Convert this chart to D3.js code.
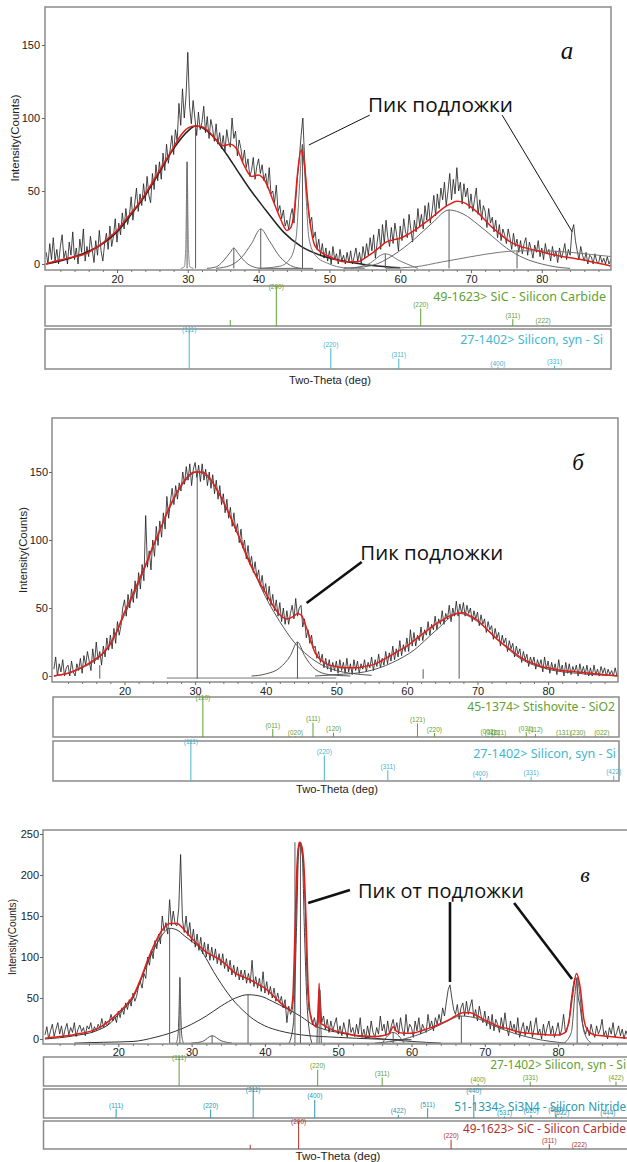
<!DOCTYPE html>
<html><head><meta charset="utf-8">
<script src="https://cdn.jsdelivr.net/npm/d3@7"></script>
<style>body{margin:0;background:#fff;overflow:hidden}svg{display:block}</style>
</head><body>
<script>
// ================= DATA =================
const RAW_START = 10, RAW_STEP = 0.25;
const xTicks = [20,30,40,50,60,70,80];
const yTicksA = [0,50,100,150];
const yTicksB = [0,50,100,150];
const yTicksC = [0,50,100,150,200,250];

// ---- panel а ----
const rawA = [
8,0,14,3, 18,2,10,0, 12,20,4,9, 0,15,6,22, 3,11,0,17, 8,24,2,12, 5,19,10,1, 16,6,23,9, 2,14,21,10, 26,12,19,31,
15,28,20,35, 24,38,27,33, 46,30,41,52, 36,48,40,55, 43,60,47,42, 62,51,68,57, 70,58,76,64, 82,69,78,88, 75,92,84,110, 95,120,100,115,
145,108,96,112, 100,88,104,92, 97,108,90,101, 86,99,93,84, 96,82,90,79, 88,77,92,84, 80,100,86,91, 74,85,79,70, 78,66,72,60, 64,73,58,67,
72,62,68,57, 62,52,66,48, 50,42,54,36, 40,31,37,26, 30,24,33,38, 28,44,60,72, 88,100,72,50, 40,28,32,18, 22,10,17,6, 14,4,11,2,
9,0,12,3, 7,0,10,2, 6,0,8,1, 9,0,5,11, 2,8,0,12, 4,14,6,18, 9,20,4,15, 24,10,27,14, 30,18,12,25, 14,28,20,9,
26,16,31,22, 18,34,24,15, 30,22,38,26, 34,24,40,30, 42,28,36,47, 33,48,38,52, 44,56,40,50, 62,44,58,48, 66,50,56,41, 55,46,52,38,
48,36,44,52, 34,44,30,40, 36,25,38,28, 32,22,30,18, 27,16,24,20, 14,24,18,10, 21,12,17,8, 16,7,14,18, 6,15,10,4, 13,8,16,5,
11,3,14,7, 10,2,12,5, 9,1,11,4, 8,14,3,10, 6,22,27,16, 9,3,12,6, 2,8,0,6, 5,0,7,2, 0,6,1,4, 0,5,0,3,
0];
const fitA = [[10,0],[11,1.5],[12,2.7],[13,4],[14,5],[15,6],[16,8],[17,11],[18,14.5],[19,18.7],[20,23],[21,29],[22,35],[23,41],[24,48],[25,56],[26,64],[27,72],[28,80],[29,88],[30,93],[31,94.5],[32,94],[33,90.6],[34,85],[35,81],[36,82],[37,78],[38,67],[39,60],[40,61],[41,56],[42,44],[43,32],[44,23],[44.5,24.6],[45,35],[45.5,62],[46,78],[46.5,67],[47,39],[47.5,21],[48,12],[49,7.5],[50,5],[51,3],[52,1.6],[53,1.5],[54,1.6],[55,4],[56,7.3],[57,11],[58,15],[59,16.5],[60,17.6],[61,20],[62,23],[63,26.5],[64,30],[65,34],[66,38],[67,41],[68,43],[69,42],[70,39],[71,35],[72,30],[73,25],[74,21],[75,17],[76,14],[77,12],[78,10.7],[79,9.5],[80,8.4],[81,7],[82,6],[83,5],[84,4.3],[85,3.5],[86,2.7],[87,1.5],[88,0.5],[89,-0.5],[90,-1.8]];
const humpA31 = [[10,0],[14,5],[18,14],[20,22],[22,34],[24,47],[26,63],[28,79],[30,91],[31.1,94.5],[32,93.5],[34,85],[35.5,75],[37,64],[38.8,51],[41,37],[43.5,22],[46,12],[48.7,6],[52,2],[56,-1],[60,-2.5]];
const peakA30 = [[29,-3],[29.5,-2],[29.7,10],[29.8,40],[29.9,70],[30,40],[30.1,10],[30.3,-2],[30.8,-3]];
const peakA36 = [[32.7,-3],[34,-2],[35,2],[36,8],[36.5,11],[37,8],[38,2],[39,-1.5],[40.5,-3],[47.7,-3]];
const peakA40 = [[34,-3],[36,-1],[37.5,4],[39,14],[40.3,24],[41.5,16],[43,5],[44.5,-1],[46,-3]];
const peakA46 = [[40,-3],[43,-1.5],[44.5,4],[45.3,18],[45.8,55],[46.2,82],[46.6,55],[47.1,18],[48,6],[50,0],[52,-2.5],[55,-3]];
const peakA58 = [[53,-3],[55.5,0],[57.9,7],[60,2],[62.5,-3]];
const humpA67 = [[52,-3],[56,-1],[59,6],[62,17],[64.5,28],[66.9,37],[69,34],[71,27],[73,19],[75,11],[77.5,4],[80,0],[82,-2],[84,-3]];
const humpA76 = [[58,-3],[62,-2],[66,1.5],[70,5],[74,8],[76.5,9],[80,9],[84,8],[87,6.5],[90,5]];
const vlinesA = [[29.9,70],[31.1,94.5],[36.5,11],[40.3,24],[46.2,82],[57.9,7],[66.9,37],[76.5,9]];
const sicA_pos = [36.0,42.5,62.9,75.9,80.2], sicA_int = [15,100,44,17,3], sicA_hkl = ['','(200)','(220)','(311)','(222)'];
const siA_pos = [30.2,50.2,59.8,73.8,81.8], siA_int = [100,52,26,5,8], siA_hkl = ['(111)','(220)','(311)','(400)','(331)'];

// ---- panel б ----
const rawB = [
5,14,0,9, 3,12,0,6, 8,0,11,3, 0,9,4,13, 2,15,8,18, 11,4,20,9, 25,12,18,8, 22,14,28,19, 30,20,35,24, 40,30,37,50,
56,44,60,50, 64,54,70,57, 76,64,82,70, 118,80,92,78, 100,88,110,96, 114,102,120,108, 132,116,128,138, 126,140,130,142, 136,150,141,154, 144,156,140,152,
157,146,155,143, 156,144,152,140, 150,138,148,134, 144,130,140,126, 134,120,130,116, 124,110,120,106, 112,98,108,94, 100,86,96,82, 88,76,84,72, 78,66,74,62,
68,56,66,52, 60,48,56,44, 54,40,50,38, 48,38,46,52, 42,57,44,50, 52,36,42,28, 34,24,30,20, 22,13,18,10, 16,6,13,5, 12,3,10,4,
11,2,12,4, 10,2,13,3, 9,1,12,4, 11,2,9,5, 12,3,10,6, 14,4,12,7, 16,6,13,8, 18,9,17,11, 22,12,20,14, 26,15,23,18,
28,18,34,22, 32,22,30,26, 36,26,34,30, 40,30,38,34, 44,34,42,38, 48,38,46,42, 52,40,50,44, 55,44,53,46, 54,44,52,46, 50,40,48,42,
47,37,45,38, 42,32,40,34, 37,27,35,28, 32,22,30,24, 28,18,26,20, 24,14,22,16, 20,10,18,12, 16,7,14,9, 14,5,12,7, 12,3,14,5,
11,2,10,4, 9,1,12,3, 8,0,10,2, 9,1,7,3, 8,0,9,2, 7,1,8,0, 6,0,8,1, 5,0,7,2, 6,0,5,1, 4,0,6,0,
2];
const fitB = [[10,0],[11,1],[12,2],[13,4],[14,6.5],[15,9.5],[16,13],[17,17],[18,24],[19,34],[20,47],[21,58],[22,70],[23,82],[24,95],[25,107],[26,120],[27,131],[28,140],[29,147],[30,150],[31,150],[32,146],[33,138],[34,128],[35,117],[36,105],[37,92],[38,80],[39,70],[40,61],[41,52],[42,45],[43,42],[44,44],[44.5,46],[45,45],[46,32],[47,17],[48,11],[49,8],[50,7],[51,6],[52,6],[53,6],[54,7],[55,8],[56,10],[57,13],[58,16],[59,19],[60,22],[61,26],[62,30],[63,34],[64,38],[65,41],[66,44],[67,46],[68,46.5],[69,44],[70,41],[71,36],[72,31],[73,26],[74,22],[75,18],[76,14],[77,11],[78,9],[79,7],[80,6],[81,5],[82,4],[83,3.5],[84,3],[85,2.5],[86,2],[87,1.5],[88,1],[89,0.5],[90,0]];
const humpB30 = [[10,0],[12,2],[14,6],[16,12],[18,23],[20,45],[22,68],[24,94],[26,119],[28,139],[30.3,150],[32,145],[34,128],[36,105],[38,81],[40,58],[42,40],[43,32],[44,25],[46,15],[48,8],[50,4],[52,2],[55,0.5]];
const peakB44 = [[38,0],[40,1.5],[42,6],[43.5,15],[44.5,25],[45.5,15],[47,5],[49,1],[52,0]];
const humpB67 = [[47,0],[50,1],[54,3],[58,10],[61,19],[64,33],[67.4,46],[70,40],[73,26],[76,13],[80,5],[84,2],[88,0.5],[90,0]];
const baseB = [[26,-1.5],[50,-1.5]];
const vlinesB = [[30.3,150],[44.5,25],[67.4,46],[16.5,8],[62.3,5]];
const stiB_pos = [31.1,41.0,44.2,46.7,49.6,61.5,63.9,71.5,72.1,73.0,76.9,78.2,82.2,84.2,87.6];
const stiB_int = [100,20,2,36,11,34,10,3,2,1,12,8,2,2,2];
const stiB_hkl = ['(110)','(011)','(020)','(111)','(120)','(121)','(220)','(002)','(310)','(221)','(031)','(112)','(131)','(230)','(022)'];
const siB_pos = [29.4,48.3,57.3,70.4,77.6,89.3], siB_int = [100,64,27,9,11,13], siB_hkl = ['(111)','(220)','(311)','(400)','(331)','(422)'];

// ---- panel в ----
const rawC = [
5,15,0,10, 18,3,12,20, 6,16,2,12, 19,5,14,8, 20,3,12,17, 9,14,4,16, 12,20,8,15, 10,18,13,25, 14,22,16,20, 30,22,28,20,
34,26,38,30, 44,36,48,40, 56,46,52,64, 70,62,80,74, 100,90,108,98, 120,110,128,116, 150,132,142,128, 170,138,156,140, 138,160,225,146, 130,150,126,142,
118,134,112,128, 108,124,104,118, 100,116,96,112, 96,110,92,104, 90,104,86,98, 82,96,78,90, 76,88,72,84, 72,84,68,80, 68,96,64,76, 62,74,58,82,
56,70,54,64, 50,62,46,56, 44,52,38,48, 20,40,30,36, 60,150,230,240, 232,215,160,70, 35,30,18,26, 14,30,60,20, 28,12,24,8, 22,10,18,26,
6,16,4,20, 10,2,24,8, 14,3,18,6, 26,2,12,0, 16,4,22,8, 2,14,6,28, 10,18,4,22, 6,16,24,10, 20,6,26,12, 4,30,8,18,
14,2,22,10, 26,6,18,12, 8,30,14,22, 10,26,18,30, 20,38,28,45, 60,66,50,36, 30,42,24,38, 44,28,46,30, 40,48,26,36, 22,40,28,20,
34,16,28,12, 30,10,24,18, 8,26,12,32, 14,4,22,10, 18,6,26,2, 12,20,4,16, 8,22,2,14, 26,6,12,0, 18,4,14,22, 6,16,2,10,
20,4,12,30, 8,14,20,45, 62,74,72,50, 40,22,12,6, 14,4,18,8, 2,16,6,12, 24,4,10,0, 14,6,20,2, 8,16,4,12, 0,10,4,14,
2];
const fitC = [[10,1],[11,2],[12,3],[13,4],[14,5.5],[15,7],[16,9],[17,12],[18,17],[19,24],[20,32],[21,41],[22,52],[23,72],[24,96],[25,117],[26,133],[27,141],[28,141],[29,133],[30,123],[31,114],[32,106],[33,101],[34,96],[35,88],[36,80],[37,76],[38,72],[39,67],[40,62],[41,54],[42,45],[43,38],[43.5,35],[43.8,50],[44.1,130],[44.4,215],[44.7,240],[45,236],[45.3,215],[45.6,150],[45.9,64],[46.3,25],[47,15],[47.25,20],[47.4,68],[47.55,20],[48,17],[49,12],[50,9],[51,7],[52,5],[53,4],[54,3.5],[55,3],[56,4],[57,7],[57.5,15],[58,9],[59,7],[60,7],[61,9],[62,12],[63,15],[64,19],[65,23],[66,28],[67,32],[68,32],[69,28],[70,23],[71,19],[72,15],[73,13],[74,10],[75,8],[76,7],[77,6],[78,5.5],[79,5],[80,5],[81,8],[81.5,23],[82,55],[82.5,80],[83,64],[83.5,25],[84,11],[85,5],[86,4],[87,3],[88,2],[89,1.5],[90,1]];
const humpC27 = [[10,0],[14,4],[17,10],[19,20],[20,30],[21,39],[22,50],[23,70],[24,93],[25,112],[26,127],[27,135],[28,133],[29,126],[30,119],[31,112],[32,98],[33,82],[34,68],[35,55],[36,44],[37,35],[38,27],[40,16],[42,10],[45,5],[50,2],[55,0],[60,-1]];
const humpC38 = [[14,-5],[18,-4],[22,-3],[25,2],[27,7],[30,18],[32,28],[34,40],[36,50],[37.7,54],[39.5,52],[41,46],[43,37],[45,27],[46.6,17],[48,12],[50,8],[53,3],[56,0],[60,-3],[64,-5]];
const peakC28 = [[27.9,-5],[28.15,5],[28.3,40],[28.4,75],[28.5,40],[28.65,5],[28.9,-5]];
const peakC33 = [[30,-5],[31.5,-3],[32.8,4],[34,-2],[35.5,-5]];
const peakC44 = [[43.3,-5],[43.9,20],[44.3,130],[44.6,228],[44.85,240],[45.1,225],[45.4,130],[45.8,35],[46.4,-5]];
const peakC47 = [[47.1,-5],[47.4,60],[47.7,-5]];
const peakC57 = [[56,-5],[57.5,8],[59,-5]];
const humpC67 = [[55,-5],[59,0],[62,9],[64.5,20],[66.8,28],[69,25],[71,17],[74,7],[77,0],[81,-5]];
const peakC82 = [[80.8,-5],[81.8,8],[82.3,55],[82.6,75],[82.95,55],[83.5,10],[84.5,-5]];
const baseC = [[27,-5],[90,-5]];
const vlinesC = [[27,135],[28.4,75],[32.8,4],[37.7,54],[44.1,240],[44.85,240],[47.4,60],[57.5,8],[66.8,28],[82.6,75]];
const siC_pos = [28.3,47.2,56.0,69.1,76.2,87.9], siC_int = [100,56,29,8,15,15], siC_hkl = ['(111)','(220)','(311)','(400)','(331)','(422)'];
const snC_pos = [19.7,32.6,38.4,46.8,58.2,62.2,68.5,72.7,76.3,79.7,80.5,86.8];
const snC_int = [31,29,100,63,11,34,80,5,11,15,5,5];
const snC_hkl = ['(111)','(220)','(311)','(400)','(422)','(511)','(440)','(531)','(620)','(533)','(622)','(444)'];
const sicC_pos = [38.0,44.6,65.4,78.8,82.9], sicC_int = [15,100,33,17,2], sicC_hkl = ['','(200)','(220)','(311)','(222)'];

// ================= DRAWING =================
const W = 627, H = 1162;
const svg = d3.select('body').append('svg').attr('width', W).attr('height', H);
const GREEN = '#5fa134', CYAN = '#45b6cf', TEAL = '#2b98b0', DRED = '#b3302c';
const FRAME = '#8a8a8a';

function fitW(t, w) {
  const len = t.node().getComputedTextLength();
  const fs = parseFloat(t.attr('font-size'));
  t.attr('font-size', fs * w / len);
}

function drawPanel(L, D) {
  const g = svg.append('g');
  const x = d3.scaleLinear().domain([20, 80]).range([L.x20, L.x20 + 60 * L.kx]);
  const y = d3.scaleLinear().domain([0, 100]).range([L.y0, L.y0 - 100 * L.ky]);
  const cid = 'clip' + L.id;
  svg.append('clipPath').attr('id', cid).append('rect')
    .attr('x', L.fx0).attr('y', L.fy0).attr('width', L.fx1 - L.fx0).attr('height', L.fy1 - L.fy0);
  const plot = g.append('g').attr('clip-path', `url(#${cid})`);
  const smooth = d3.line().x(d => x(d[0])).y(d => y(d[1])).curve(d3.curveMonotoneX);
  const straight = d3.line().x(d => x(d[0])).y(d => y(d[1]));

  const raw = D.raw.map((v, i) => [RAW_START + i * RAW_STEP, v]);
  plot.append('path').attr('d', straight(raw)).attr('fill', 'none')
    .attr('stroke', '#1c1c1c').attr('stroke-width', 0.8).attr('stroke-linejoin', 'round');

  D.comps.forEach((c, i) => {
    plot.append('path').attr('d', smooth(c)).attr('fill', 'none')
      .attr('stroke', L.compColor[i] || L.compColor[0]).attr('stroke-width', L.compWidth[i] || 1);
  });
  D.vlines.forEach(v => {
    plot.append('line').attr('x1', x(v[0])).attr('x2', x(v[0]))
      .attr('y1', y(L.base)).attr('y2', y(v[1])).attr('stroke', '#5a5a5a').attr('stroke-width', 1);
  });
  plot.append('path').attr('d', smooth(D.fit)).attr('fill', 'none')
    .attr('stroke', '#e21d1a').attr('stroke-width', 1.5);

  g.append('rect').attr('x', L.fx0).attr('y', L.fy0).attr('width', L.fx1 - L.fx0).attr('height', L.fy1 - L.fy0)
    .attr('fill', 'none').attr('stroke', FRAME).attr('stroke-width', 1.5);

  // axes
  const xa = g.append('g').attr('transform', `translate(0,${L.fy1})`)
    .call(d3.axisBottom(x).tickValues(xTicks).tickSize(3).tickPadding(L.xPad));
  xa.select('.domain').remove();
  xa.selectAll('text').attr('font-family', 'Liberation Sans, Arial, sans-serif').attr('font-size', 11).attr('fill', '#222');
  xa.selectAll('line').attr('stroke', '#666');
  const xm = g.append('g').attr('transform', `translate(0,${L.fy1})`)
    .call(d3.axisBottom(x).tickValues(d3.range(12, 90, 2).filter(v => v % 10 !== 0)).tickSize(2).tickFormat(''));
  xm.select('.domain').remove();
  xm.selectAll('line').attr('stroke', '#777');

  const ya = g.append('g').attr('transform', `translate(${L.fx0},0)`)
    .call(d3.axisLeft(y).tickValues(D.yTicks).tickSize(3).tickPadding(L.yPad));
  ya.select('.domain').remove();
  ya.selectAll('text').attr('font-family', 'Liberation Sans, Arial, sans-serif').attr('font-size', 11).attr('fill', '#222');
  ya.selectAll('line').attr('stroke', '#666');

  const yl = g.append('text').attr('transform', `translate(${L.ylabX},${L.ylabY}) rotate(-90)`)
    .attr('text-anchor', 'middle').attr('dy', '0.35em')
    .attr('font-family', 'Liberation Sans, Arial, sans-serif').attr('font-size', 11).attr('fill', '#222')
    .text('Intensity(Counts)');
  fitW(yl, L.ylabW);

  // panel letter
  g.append('text').attr('x', L.letX).attr('y', L.letY).attr('text-anchor', 'middle').attr('dy', '0.35em')
    .attr('font-family', 'Liberation Serif, Times New Roman, serif').attr('font-style', 'italic')
    .attr('font-size', L.letSize).attr('fill', '#111').text(L.letter);

  // annotation
  const at = g.append('text').attr('x', x(L.ann.text[0])).attr('y', y(L.ann.text[1])).attr('dy', '0.36em')
    .attr('font-family', 'Open Sans, Noto Sans, sans-serif').attr('font-size', 20).attr('fill', '#111')
    .text(L.ann.label);
  fitW(at, L.ann.w);
  L.ann.lines.forEach(l => {
    g.append('line').attr('x1', x(l[0])).attr('y1', y(l[1])).attr('x2', x(l[2])).attr('y2', y(l[3]))
      .attr('stroke', '#111').attr('stroke-width', L.ann.sw);
  });

  // strips
  L.strips.forEach((s, si) => {
    const S = D.strips[si];
    g.append('rect').attr('x', L.sx0).attr('y', s.top).attr('width', L.sx1 - L.sx0).attr('height', s.bottom - s.top)
      .attr('fill', 'none').attr('stroke', FRAME).attr('stroke-width', 1.5);
    const hh = s.bottom - s.top;
    const lt = g.append('text').attr('x', s.lx).attr('y', s.ly).attr('dy', '0.36em').attr('text-anchor', 'end')
      .attr('font-family', 'Noto Sans, Open Sans, sans-serif').attr('font-size', 13).attr('fill', S.color).text(S.name);
    fitW(lt, s.lw);
    S.pos.forEach((p, k) => {
      const top = s.bottom - S.int[k] / 100 * hh;
      g.append('line').attr('x1', x(p)).attr('x2', x(p)).attr('y1', s.bottom).attr('y2', top)
        .attr('stroke', S.color).attr('stroke-width', 1);
      if (S.hkl[k]) {
        g.append('text').attr('x', x(p)).attr('y', S.int[k] >= 99 ? s.top + 2.5 : top - 1.5)
          .attr('text-anchor', 'middle').attr('font-family', 'Liberation Sans, Arial, sans-serif')
          .attr('font-size', 6.5).attr('fill', S.color).text(S.hkl[k]);
      }
    });
  });
  const tt = g.append('text').attr('x', L.ttX).attr('y', L.ttY).attr('dy', '0.35em').attr('text-anchor', 'middle')
    .attr('font-family', 'Liberation Sans, Arial, sans-serif').attr('font-size', 11).attr('fill', '#222')
    .text('Two-Theta (deg)');
  fitW(tt, L.ttW);
}

drawPanel({
  id: 'A', fx0: 45, fx1: 611, fy0: 7, fy1: 270, x20: 117, kx: 7.08, y0: 264, ky: 1.46, base: -3,
  xPad: 2, yPad: 2, ylabX: 15, ylabY: 138, ylabW: 87,
  compColor: ['#222', '#8a8a8a', '#666', '#666', '#777', '#777', '#666', '#777'], compWidth: [1.5, 1, 1, 1, 1, 1, 1, 1],
  letter: 'а', letX: 567, letY: 50, letSize: 25,
  ann: { label: 'Пик подложки', text: [55.45, 109], w: 145, sw: 1,
         lines: [[55.7, 102, 47.1, 81.5], [74.4, 102, 84.3, 22]] },
  sx0: 45, sx1: 611,
  strips: [{ top: 286, bottom: 326, lx: 606, ly: 296, lw: 173 }, { top: 329, bottom: 369, lx: 603, ly: 339, lw: 143 }],
  ttX: 330, ttY: 380, ttW: 82
}, {
  raw: rawA, fit: fitA, yTicks: yTicksA, vlines: vlinesA,
  comps: [humpA31, peakA30, peakA36, peakA40, peakA46, peakA58, humpA67, humpA76],
  strips: [
    { name: '49-1623> SiC - Silicon Carbide', color: GREEN, pos: sicA_pos, int: sicA_int, hkl: sicA_hkl },
    { name: '27-1402> Silicon, syn - Si', color: CYAN, pos: siA_pos, int: siA_int, hkl: siA_hkl }]
});

drawPanel({
  id: 'B', fx0: 52, fx1: 618, fy0: 418, fy1: 682, x20: 124.5, kx: 7.06, y0: 676, ky: 1.36, base: -2,
  xPad: 2, yPad: 1, ylabX: 23, ylabY: 550, ylabW: 86,
  compColor: ['#555', '#555', '#555', '#777'], compWidth: [1, 1, 1, 1],
  letter: 'б', letX: 578, letY: 462, letSize: 23,
  ann: { label: 'Пик подложки', text: [53.4, 91], w: 143, sw: 2.6,
         lines: [[53.6, 83.8, 45.8, 53.7]] },
  sx0: 53, sx1: 619,
  strips: [{ top: 697, bottom: 737, lx: 615, ly: 707, lw: 148 }, { top: 741, bottom: 781, lx: 616, ly: 753, lw: 143 }],
  ttX: 337, ttY: 789, ttW: 82
}, {
  raw: rawB, fit: fitB, yTicks: yTicksB, vlines: vlinesB,
  comps: [humpB30, peakB44, humpB67, baseB],
  strips: [
    { name: '45-1374> Stishovite - SiO2', color: GREEN, pos: stiB_pos, int: stiB_int, hkl: stiB_hkl },
    { name: '27-1402> Silicon, syn - Si', color: CYAN, pos: siB_pos, int: siB_int, hkl: siB_hkl }]
});

drawPanel({
  id: 'C', fx0: 43, fx1: 632, fy0: 830, fy1: 1044, x20: 118.3, kx: 7.33, y0: 1039, ky: 0.82, base: -5,
  xPad: 1, yPad: 1, ylabX: 12, ylabY: 937, ylabW: 76,
  compColor: ['#333', '#333', '#555', '#555', '#444', '#555', '#555', '#555', '#555', '#888'], compWidth: [1, 1, 1, 1, 1, 1, 1, 1, 1, 1],
  letter: 'в', letX: 585, letY: 874, letSize: 22,
  ann: { label: 'Пик от подложки', text: [52.7, 180.5], w: 166, sw: 2.6,
         lines: [[51.6, 181.7, 45.9, 165.9], [65.25, 167, 65.25, 69.5], [74.0, 165.9, 81.9, 73.2]] },
  sx0: 43.5, sx1: 632,
  strips: [{ top: 1057, bottom: 1086, lx: 626, ly: 1065, lw: 136 },
           { top: 1089, bottom: 1118, lx: 626, ly: 1107, lw: 172 },
           { top: 1121, bottom: 1149, lx: 626, ly: 1129, lw: 163 }],
  ttX: 338, ttY: 1156, ttW: 85
}, {
  raw: rawC, fit: fitC, yTicks: yTicksC, vlines: vlinesC,
  comps: [humpC27, humpC38, peakC28, peakC33, peakC44, peakC47, peakC57, humpC67, peakC82, baseC],
  strips: [
    { name: '27-1402> Silicon, syn - Si', color: GREEN, pos: siC_pos, int: siC_int, hkl: siC_hkl },
    { name: '51-1334> Si3N4 - Silicon Nitride', color: TEAL, pos: snC_pos, int: snC_int, hkl: snC_hkl },
    { name: '49-1623> SiC - Silicon Carbide', color: DRED, pos: sicC_pos, int: sicC_int, hkl: sicC_hkl }]
});
</script>
</body></html>
